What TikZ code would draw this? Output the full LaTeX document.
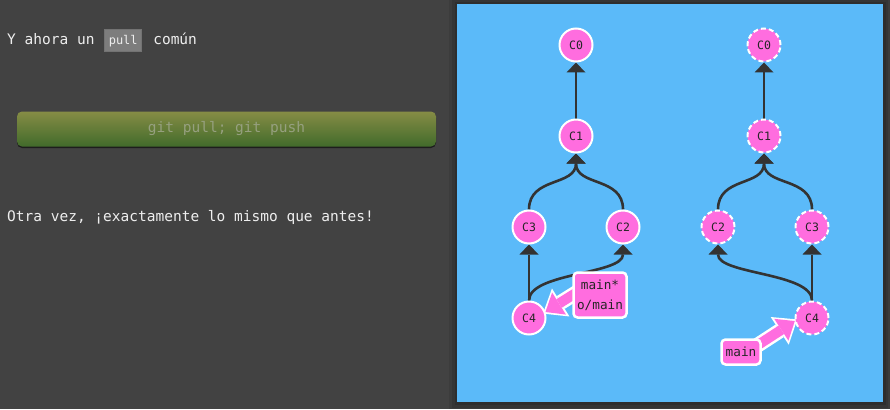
\documentclass[tikz,border=0pt]{standalone}
\usepackage{fontspec}
\setmonofont{DejaVu Sans Mono}
\usetikzlibrary{calc,arrows.meta,shadows}
\definecolor{pagegray}{HTML}{424242}
\definecolor{panelblue}{HTML}{5BBAF9}
\definecolor{commitpink}{HTML}{FF6DDF}
\definecolor{edgegray}{HTML}{333333}
\definecolor{btntop}{HTML}{868C45}
\definecolor{btnbottom}{HTML}{416B2B}
\definecolor{btntext}{HTML}{96A07F}
\definecolor{introtext}{HTML}{EEEEEE}
\definecolor{codefill}{HTML}{7D7D7D}
\pgfdeclarelayer{panel}
\pgfdeclarelayer{links}
\pgfsetlayers{panel,links,main}

\tikzset{
	txt/.style={inner sep=0pt, anchor=base west, text=introtext, font=\ttfamily\fontsize{14.5}{17}\selectfont},
	codebox/.style={rectangle, fill=codefill, draw=black!55, line width=0.8pt, inner xsep=4pt, inner ysep=5pt, text height=10.5pt, text depth=1.5pt, text=introtext, font=\ttfamily\fontsize{12}{14}\selectfont},
	cmdbutton/.style={rectangle, rounded corners=5pt, minimum width=419pt, minimum height=35pt, top color=btntop, bottom color=btnbottom, text=btntext, font=\ttfamily\fontsize{14.5}{17}\selectfont, drop shadow={shadow xshift=0pt, shadow yshift=-1.5pt, opacity=.55, fill=black}},
	commit/.style={circle, fill=commitpink, draw=white, line width=2pt, minimum size=33pt, inner sep=0pt, text=black!85, font=\ttfamily\fontsize{11.5}{13}\selectfont},
	remotecommit/.style={commit, dash pattern=on 5pt off 3pt},
	parentlink/.style={draw=edgegray, line width=2.6pt, -{Triangle[length=10pt, width=19pt, line width=0pt]}},
	reftag/.style={rectangle, rounded corners=4pt, fill=commitpink, draw=white, line width=2.5pt, inner sep=0pt, align=center, text=black!85, font=\ttfamily\fontsize{12.7}{20}\selectfont},
	tagarrow/.style={draw=commitpink, line width=10pt, -{Triangle[length=16pt, width=26pt, line width=0pt]}, preaction={draw=white, line width=15pt, shorten >=-3pt, -{Triangle[length=21pt, width=33pt, line width=0pt]}}}
}

\begin{document}
\begin{tikzpicture}[x=1pt, y=-1pt]
	%%%%% START %%%%%
	
	\useasboundingbox (0, 0) rectangle (890, 409);
	
	\begin{pgfonlayer}{panel}
		\fill[pagegray] (0, 0) rectangle (890, 409);
		\fill[black, opacity=0.08] (449, 0) rectangle (890, 409);
		\fill[black, opacity=0.1] (452, 0) rectangle (888, 408);
		\fill[black, opacity=0.12] (455, 2) rectangle (886, 405);
		\fill[panelblue] (457, 4) rectangle (883, 402);
	\end{pgfonlayer}
	
	\node[txt] (intro) at (7, 45) {Y ahora un};
	\node[codebox, anchor=base west] (pullword) at ($(intro.base east)+(9.7, 0)$) {pull};
	\node[txt] (common) at ($(pullword.base east)+(11, 0)$) {común};
	
	\node[cmdbutton] (cmd) at (226.5, 129) {git pull; git push};
	
	\node[txt] (again) at (7, 221) {Otra vez, ¡exactamente lo mismo que antes!};
	
	% local
	\node[commit] (c0) at (576, 45) {C0};
	\node[commit] (c1) at (576, 136) {C1};
	\node[commit] (c3) at (529, 227) {C3};
	\node[commit] (c2) at (623, 227) {C2};
	\node[commit] (c4) at (529, 318) {C4};
	\node[reftag, minimum width=53pt, minimum height=45pt] (tagL) at (600, 295) {main*\\o/main};
	
	% remote
	\node[remotecommit] (rc0) at (764, 45) {C0};
	\node[remotecommit] (rc1) at (764, 136) {C1};
	\node[remotecommit] (rc2) at (718, 227) {C2};
	\node[remotecommit] (rc3) at (812, 227) {C3};
	\node[remotecommit] (rc4) at (812, 318) {C4};
	\node[reftag, minimum width=39pt, minimum height=25pt] (tagR) at (741, 352) {main};
	
	\begin{pgfonlayer}{links}
		\draw[parentlink] (c1) -- (c0);
		\draw[parentlink] (c3.north) .. controls +(0, -33) and +(0, 33) .. (c1.south);
		\draw[parentlink] (c2.north) .. controls +(0, -33) and +(0, 33) .. (c1.south);
		\draw[parentlink] (c4) -- (c3);
		\draw[parentlink] (c4.north) .. controls +(0, -28) and +(0, 30) .. (c2.south);
		\draw[tagarrow] ($(tagL.west)+(10, -6)$) -- (c4.20);
		
		\draw[parentlink] (rc1) -- (rc0);
		\draw[parentlink] (rc2.north) .. controls +(0, -33) and +(0, 33) .. (rc1.south);
		\draw[parentlink] (rc3.north) .. controls +(0, -33) and +(0, 33) .. (rc1.south);
		\draw[parentlink] (rc4) -- (rc3);
		\draw[parentlink] (rc4.north) .. controls +(0, -28) and +(0, 30) .. (rc2.south);
		\draw[tagarrow] ($(tagR.east)+(-10, -3)$) -- (rc4.190);
	\end{pgfonlayer}
	
	%%%%% END %%%%%
\end{tikzpicture}
\end{document}
